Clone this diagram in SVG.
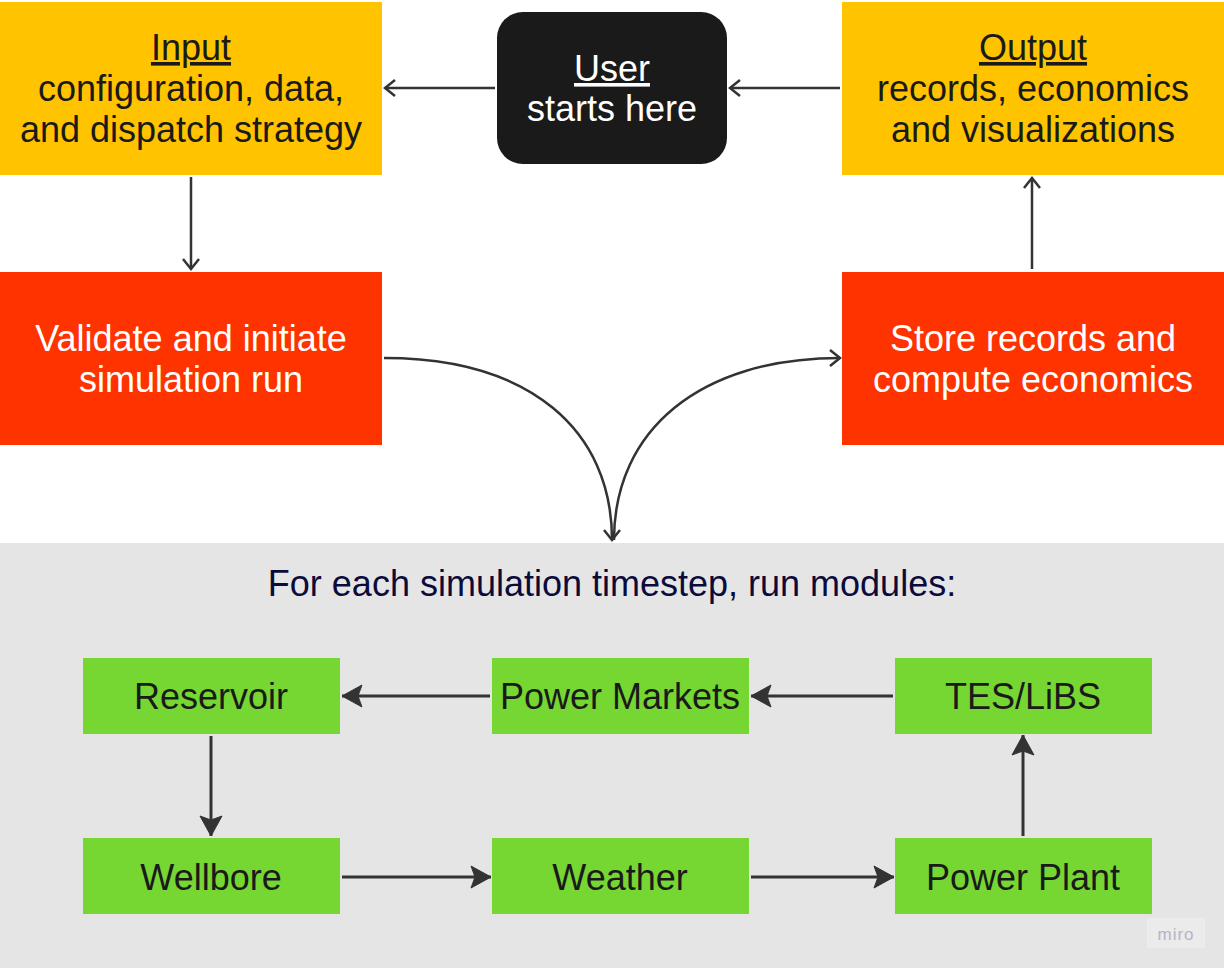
<svg xmlns="http://www.w3.org/2000/svg" width="1224" height="968" viewBox="0 0 1224 968">
<defs>
<style>
text{font-family:"Liberation Sans",Arial,sans-serif;font-size:36px;text-anchor:middle}
.dark{fill:#1a1a1a}
.white{fill:#ffffff}
.yellow{fill:#FFC300}
.red{fill:#FF3300}
.green{fill:#76D632}
.c1{fill:none;stroke:#333333;stroke-width:2.5}
.c2{fill:none;stroke:#333333;stroke-width:3}
</style>
<marker id="open" viewBox="0 0 20 20" refX="18" refY="10" markerWidth="20" markerHeight="20" markerUnits="userSpaceOnUse" orient="auto">
<path d="M8,2 L18,10 L8,18" fill="none" stroke="#333333" stroke-width="2.5"/>
</marker>
<marker id="solid" viewBox="0 0 24 24" refX="22" refY="12" markerWidth="24" markerHeight="24" markerUnits="userSpaceOnUse" orient="auto">
<path d="M2,1 L22,12 L2,23 L6,12 Z" fill="#333333" stroke="#333333" stroke-width="1" stroke-linejoin="round"/>
</marker>
</defs>
<rect width="1224" height="968" fill="#ffffff"/>
<rect id="panel" x="0" y="543" width="1224" height="425" fill="#E5E5E5"/>

<g id="input">
<rect class="yellow" x="0" y="2" width="382" height="173"/>
<text x="191" y="60" class="dark" text-decoration="underline">Input</text>
<text x="191" y="101" class="dark">configuration, data,</text>
<text x="191" y="142" class="dark">and dispatch strategy</text>
</g>
<g id="user">
<rect x="497" y="12" width="230" height="152" rx="26" fill="#1a1a1a"/>
<text x="612" y="81" class="white" text-decoration="underline">User</text>
<text x="612" y="121" class="white">starts here</text>
</g>
<g id="output">
<rect class="yellow" x="842" y="2" width="382" height="173"/>
<text x="1033" y="60" class="dark" text-decoration="underline">Output</text>
<text x="1033" y="101" class="dark">records, economics</text>
<text x="1033" y="142" class="dark">and visualizations</text>
</g>
<g id="validate">
<rect class="red" x="0" y="272" width="382" height="173"/>
<text x="191" y="351" class="white">Validate and initiate</text>
<text x="191" y="392" class="white">simulation run</text>
</g>
<g id="store">
<rect class="red" x="842" y="272" width="382" height="173"/>
<text x="1033" y="351" class="white">Store records and</text>
<text x="1033" y="392" class="white">compute economics</text>
</g>
<g id="loop-title">
<text x="612" y="596" fill="#0b0b3b">For each simulation timestep, run modules:</text>
</g>
<g id="reservoir">
<rect class="green" x="83" y="658" width="257" height="76"/>
<text x="211" y="709" class="dark">Reservoir</text>
</g>
<g id="power-markets">
<rect class="green" x="492" y="658" width="257" height="76"/>
<text x="620" y="709" class="dark">Power Markets</text>
</g>
<g id="tes-libs">
<rect class="green" x="895" y="658" width="257" height="76"/>
<text x="1023" y="709" class="dark">TES/LiBS</text>
</g>
<g id="wellbore">
<rect class="green" x="83" y="838" width="257" height="76"/>
<text x="211" y="890" class="dark">Wellbore</text>
</g>
<g id="weather">
<rect class="green" x="492" y="838" width="257" height="76"/>
<text x="620" y="890" class="dark">Weather</text>
</g>
<g id="power-plant">
<rect class="green" x="895" y="838" width="257" height="76"/>
<text x="1023" y="890" class="dark">Power Plant</text>
</g>

<g id="connectors">
<path class="c1" d="M495,88 L385,88" marker-end="url(#open)"/>
<path class="c1" d="M840,88 L730,88" marker-end="url(#open)"/>
<path class="c1" d="M191,177 L191,269" marker-end="url(#open)"/>
<path class="c1" d="M1032,269 L1032,178" marker-end="url(#open)"/>
<path class="c1" d="M384,358 C530,358 612,430 612,540" marker-end="url(#open)"/>
<path class="c1" d="M614,540 C614,430 700,358 840,358" marker-end="url(#open)"/>
<path class="c2" d="M490,696 L342,696" marker-end="url(#solid)"/>
<path class="c2" d="M893,696 L751,696" marker-end="url(#solid)"/>
<path class="c2" d="M211,736 L211,836" marker-end="url(#solid)"/>
<path class="c2" d="M342,877 L491,877" marker-end="url(#solid)"/>
<path class="c2" d="M751,877 L894,877" marker-end="url(#solid)"/>
<path class="c2" d="M1023,836 L1023,735" marker-end="url(#solid)"/>
</g>

<g id="miro-logo">
<rect x="1147" y="918" width="58" height="30" fill="#EBEBEB"/>
<text x="1176" y="940" style="font-size:17px;letter-spacing:1px" fill="#B4B4C4">miro</text>
</g>
</svg>
